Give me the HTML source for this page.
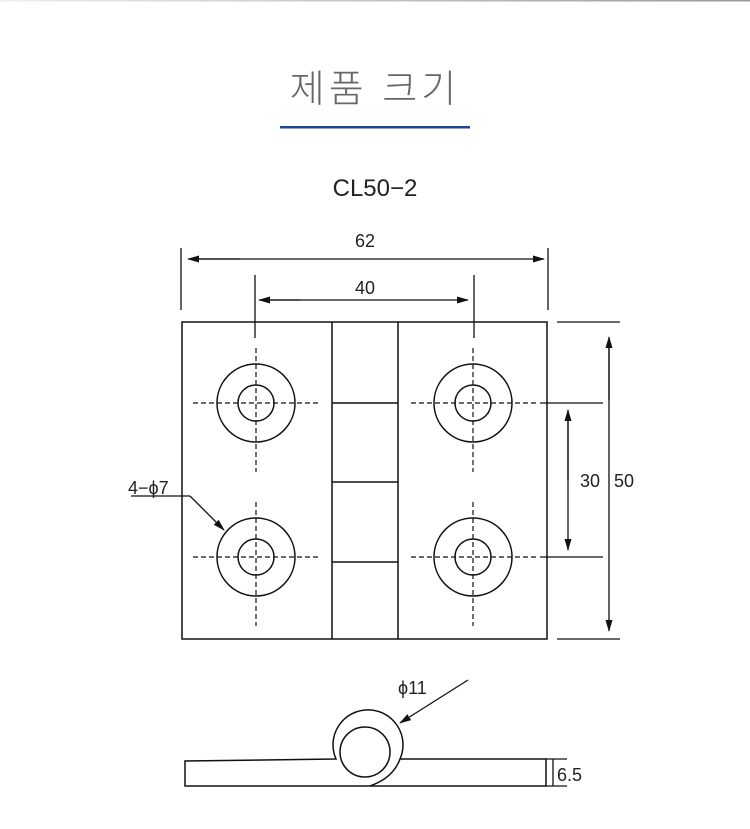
<!DOCTYPE html>
<html><head><meta charset="utf-8"><style>
html,body{margin:0;padding:0;background:#fff;}
body{width:750px;height:829px;overflow:hidden;position:relative;}
svg{position:absolute;left:0;top:0;}
</style></head><body>
<svg width="750" height="829" viewBox="0 0 750 829" xmlns="http://www.w3.org/2000/svg">
<defs>
<linearGradient id="g" x1="0" x2="1"><stop offset="0" stop-color="#eee"/><stop offset="1" stop-color="#9a96a0"/></linearGradient>
<marker id="a" markerWidth="12" markerHeight="8" refX="11" refY="4" orient="auto" markerUnits="userSpaceOnUse"><path d="M0,0.5 L12,4 L0,7.5 Z" fill="#111"/></marker>
</defs>
<rect x="0" y="0" width="750" height="1.5" fill="url(#g)"/>
<text x="375" y="102" text-anchor="middle" font-family="'Liberation Sans','Noto Sans CJK KR',sans-serif" font-size="38" font-weight="300" fill="#666" letter-spacing="4">제품 크기</text>
<rect x="280" y="126" width="190" height="2.5" fill="#1a4a96"/>
<text x="375" y="196" text-anchor="middle" font-family="'Liberation Sans',sans-serif" font-size="24" fill="#222">CL50−2</text>

<g stroke="#111" fill="none" stroke-width="1.5">
<rect x="182" y="322" width="365" height="317"/>
<line x1="332" y1="322" x2="332" y2="639"/>
<line x1="398" y1="322" x2="398" y2="639"/>
<line x1="332" y1="403" x2="398" y2="403"/>
<line x1="332" y1="482" x2="398" y2="482"/>
<line x1="332" y1="562" x2="398" y2="562"/>
<circle cx="256" cy="403" r="39"/><circle cx="256" cy="403" r="18"/>
<circle cx="473" cy="403" r="39"/><circle cx="473" cy="403" r="18"/>
<circle cx="256" cy="557" r="39"/><circle cx="256" cy="557" r="18"/>
<circle cx="473" cy="557" r="39"/><circle cx="473" cy="557" r="18"/>
</g>
<g stroke="#111" stroke-width="1.2" stroke-dasharray="5,3">
<line x1="193" y1="403" x2="318" y2="403"/><line x1="256" y1="348" x2="256" y2="472"/>
<line x1="411" y1="403" x2="536" y2="403"/><line x1="473" y1="348" x2="473" y2="472"/>
<line x1="193" y1="557" x2="318" y2="557"/><line x1="256" y1="502" x2="256" y2="626"/>
<line x1="411" y1="557" x2="536" y2="557"/><line x1="473" y1="502" x2="473" y2="626"/>
</g>
<g stroke="#111" stroke-width="1.3" fill="none">
<line x1="181" y1="248" x2="181" y2="310"/><line x1="548" y1="248" x2="548" y2="310"/>
<line x1="190" y1="259" x2="544" y2="259" marker-end="url(#a)"/>
<line x1="240" y1="259" x2="188" y2="259" marker-end="url(#a)"/>
<line x1="255" y1="275" x2="255" y2="338"/><line x1="474" y1="275" x2="474" y2="338"/>
<line x1="300" y1="300" x2="259" y2="300" marker-end="url(#a)"/>
<line x1="262" y1="300" x2="468" y2="300" marker-end="url(#a)"/>
<line x1="557" y1="322" x2="620" y2="322"/><line x1="557" y1="639" x2="620" y2="639"/>
<line x1="540" y1="403" x2="603" y2="403"/><line x1="540" y1="557" x2="603" y2="557"/>
<line x1="609" y1="400" x2="609" y2="337" marker-end="url(#a)"/>
<line x1="609" y1="345" x2="609" y2="631" marker-end="url(#a)"/>
<line x1="568" y1="480" x2="568" y2="410" marker-end="url(#a)"/>
<line x1="568" y1="420" x2="568" y2="550" marker-end="url(#a)"/>
<polyline points="131,496 190,496"/>
<line x1="190" y1="496" x2="224" y2="530" marker-end="url(#a)"/>
<path d="M336,759 L185,761 L185,786 L546,786 L546,759 L400,759 A35,35 0 1 0 336,759 Z" stroke-width="1.5"/>
<path d="M400,759 Q393,778 370,786" stroke-width="1.5"/>
<circle cx="365" cy="752" r="25" stroke-width="1.5"/>
<line x1="553" y1="759" x2="553" y2="786"/>
<line x1="546" y1="759" x2="567" y2="759"/><line x1="546" y1="786" x2="567" y2="786"/>
<line x1="468" y1="680" x2="400" y2="723" marker-end="url(#a)"/>
</g>

<g font-family="'Liberation Sans','DejaVu Sans',sans-serif" fill="#222" font-size="18">
<text x="365" y="247" text-anchor="middle">62</text>
<text x="365" y="294" text-anchor="middle">40</text>
<text x="580" y="487">30</text>
<text x="614" y="487">50</text>
<text x="128" y="494">4−ϕ7</text>
<text x="398" y="694">ϕ11</text>
<text x="557" y="781">6.5</text>
</g>
</svg>
</body></html>
